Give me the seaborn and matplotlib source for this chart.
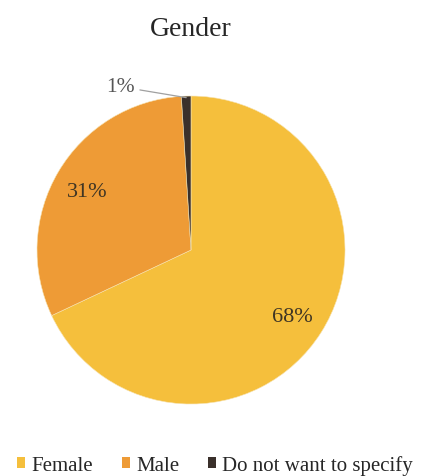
import matplotlib
matplotlib.use("Agg")
import matplotlib.pyplot as plt
from matplotlib.patches import Patch
import numpy as np
import seaborn as sns

# Survey respondents by gender (percent)
categories = ["Female", "Male", "Do not want to specify"]
shares = [68, 31, 1]
pct_labels = ["68%", "31%", "1%"]
colors = ["#F5BF3C", "#EE9B36", "#3A302B"]

sns.set_theme(style="white")
plt.rcParams["font.family"] = ["Liberation Serif", "DejaVu Serif"]

palette = sns.color_palette(colors)

fig = plt.figure(figsize=(4.24, 4.77), dpi=100)
fig.patch.set_facecolor("white")

# Pie axes: centre at ~(191, 251) px, radius ~154 px
ax = fig.add_axes([0.0873, 0.1509, 0.7264, 0.6457])
wedges, _ = ax.pie(
    shares,
    colors=palette,
    startangle=90,
    counterclock=False,
    wedgeprops=dict(linewidth=0.4, edgecolor="#f7e3b0"),
)
ax.set_xlim(-1, 1)
ax.set_ylim(-1, 1)
ax.set_aspect("equal")
ax.axis("off")

label_color = "#3f3524"
for w, txt in zip(wedges, pct_labels):
    mid = np.deg2rad((w.theta1 + w.theta2) / 2)
    if w.theta2 - w.theta1 < 10:
        # small slice: label outside with a straight leader line
        ex, ey = np.cos(mid) * 0.99, np.sin(mid) * 0.99
        lx, ly = -0.455, 1.06
        ax.annotate(
            txt, xy=(ex, ey), xytext=(lx, ly),
            ha="center", va="center", fontsize=15.5, color="#555555",
            annotation_clip=False,
            arrowprops=dict(arrowstyle="-", color="#a0a0a0", lw=0.9,
                            shrinkA=1, shrinkB=0,
                            connectionstyle="arc3,rad=0"),
        )
    else:
        r = 0.78
        ax.text(r * np.cos(mid), r * np.sin(mid), txt, ha="center",
                va="center_baseline", fontsize=16, color=label_color)

fig.text(190.5 / 424, 1 - 29 / 477, "Gender", ha="center", va="center",
         fontsize=20, color="#262626")

handles = [Patch(facecolor=c, edgecolor="none") for c in palette]
fig.legend(
    handles, categories, loc="center",
    bbox_to_anchor=(215 / 424, 1 - 466 / 477),
    ncol=3, frameon=False, fontsize=15,
    handlelength=0.38, handleheight=0.38, handletextpad=0.3,
    columnspacing=1.4, borderpad=0, labelcolor="#262626",
)

fig.savefig("out.png", dpi=100, facecolor="white")
